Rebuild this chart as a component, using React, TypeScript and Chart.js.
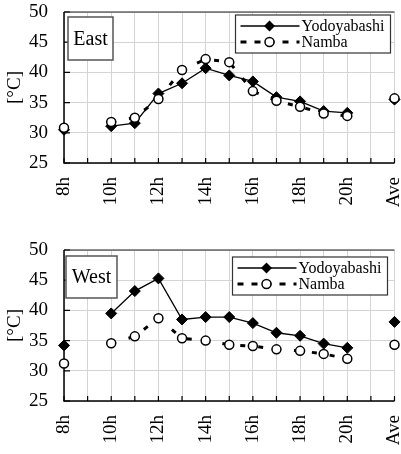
import React, { useEffect, useRef } from 'react';
import { Chart, registerables } from 'chart.js';

Chart.register(...registerables);

const hours = ['8h', '9h', '10h', '11h', '12h', '13h', '14h', '15h', '16h', '17h', '18h', '19h', '20h', '21h', 'Ave'];
const tickLabels = ['8h', '', '10h', '', '12h', '', '14h', '', '16h', '', '18h', '', '20h', '', 'Ave'];
const seriesNames = ['Yodoyabashi', 'Namba'];

const eastYodoyabashi = [30.5, null, 31.1, 31.6, 36.5, 38.2, 40.7, 39.5, 38.5, 35.9, 35.2, 33.6, 33.3, null, 35.5];
const eastNamba = [30.85, null, 31.8, 32.5, 35.6, 40.4, 42.2, 41.7, 36.9, 35.3, 34.3, 33.2, 32.8, null, 35.7];
const westYodoyabashi = [34.2, null, 39.5, 43.2, 45.3, 38.5, 38.9, 38.9, 37.9, 36.3, 35.8, 34.5, 33.8, null, 38.1];
const westNamba = [31.2, null, 34.55, 35.7, 38.7, 35.4, 35.0, 34.3, 34.1, 33.55, 33.3, 32.8, 32.0, null, 34.3];

const FONT = "'Liberation Serif', 'Times New Roman', serif";

const decorPlugin = {
  id: 'decor',
  beforeDatasetsDraw(chart: any) {
    const { ctx, chartArea: a, scales } = chart;
    ctx.save();
    ctx.strokeStyle = '#000';
    ctx.lineWidth = 1.5;
    ctx.beginPath();
    ctx.moveTo(a.left, a.top);
    ctx.lineTo(a.left, a.bottom);
    ctx.lineTo(a.right, a.bottom);
    ctx.stroke();
    ctx.strokeStyle = '#222';
    ctx.lineWidth = 1.2;
    ctx.beginPath();
    ctx.moveTo(a.left, a.top);
    ctx.lineTo(a.right, a.top);
    ctx.stroke();
    ctx.strokeStyle = '#000';
    ctx.lineWidth = 1.2;
    ctx.beginPath();
    scales.x.ticks.forEach((_t: any, i: number) => {
      const x = scales.x.getPixelForTick(i);
      ctx.moveTo(x, a.bottom);
      ctx.lineTo(x, a.bottom - 5);
    });
    scales.y.ticks.forEach((_t: any, i: number) => {
      const y = scales.y.getPixelForTick(i);
      ctx.moveTo(a.left, y);
      ctx.lineTo(a.left + 6, y);
    });
    ctx.stroke();
    ctx.restore();
  },
  afterDraw(chart: any, _args: any, opts: any) {
    const { ctx, chartArea: a } = chart;
    ctx.save();
    const lx = a.left + opts.labelDx;
    const ly = a.top + opts.labelDy;
    ctx.fillStyle = '#fff';
    ctx.fillRect(lx, ly, opts.labelW, opts.labelH);
    ctx.strokeStyle = '#555';
    ctx.lineWidth = 1.5;
    ctx.strokeRect(lx, ly, opts.labelW, opts.labelH);
    ctx.fillStyle = '#000';
    ctx.font = `20px ${FONT}`;
    ctx.textAlign = 'center';
    ctx.textBaseline = 'middle';
    ctx.fillText(opts.label, lx + opts.labelW / 2, ly + opts.labelH / 2 + 1);

    const w = 155;
    const h = 38;
    const bx = a.right - opts.legendDx - w;
    const by = a.top + opts.legendDy;
    ctx.fillStyle = '#fff';
    ctx.fillRect(bx, by, w, h);
    ctx.strokeStyle = '#333';
    ctx.lineWidth = 1.2;
    ctx.strokeRect(bx, by, w, h);

    const r1 = by + 11;
    const r2 = by + 27;
    const x0 = bx + 5;
    const x1 = bx + 64;
    const mx = bx + 34;
    ctx.strokeStyle = '#000';
    ctx.lineWidth = 1.3;
    ctx.beginPath();
    ctx.moveTo(x0, r1);
    ctx.lineTo(x1, r1);
    ctx.stroke();
    ctx.fillStyle = '#000';
    ctx.beginPath();
    ctx.moveTo(mx, r1 - 5.5);
    ctx.lineTo(mx + 5.5, r1);
    ctx.lineTo(mx, r1 + 5.5);
    ctx.lineTo(mx - 5.5, r1);
    ctx.closePath();
    ctx.fill();
    ctx.lineWidth = 3;
    ctx.setLineDash([6, 8]);
    ctx.beginPath();
    ctx.moveTo(x0, r2);
    ctx.lineTo(x1, r2);
    ctx.stroke();
    ctx.setLineDash([]);
    ctx.fillStyle = '#fff';
    ctx.lineWidth = 1.5;
    ctx.beginPath();
    ctx.arc(mx, r2, 4.5, 0, Math.PI * 2);
    ctx.fill();
    ctx.stroke();

    ctx.fillStyle = '#000';
    ctx.font = `16px ${FONT}`;
    ctx.textAlign = 'left';
    ctx.textBaseline = 'middle';
    ctx.fillText(seriesNames[0], x1 + 2, r1 + 1);
    ctx.fillText(seriesNames[1], x1 + 2, r2 + 1);
    ctx.restore();
  },
};

type PanelProps = {
  label: string;
  yod: (number | null)[];
  namba: (number | null)[];
  padTop: number;
  xAxisH: number;
  labelDx: number;
  labelDy: number;
  labelW: number;
  labelH: number;
  legendDx: number;
  legendDy: number;
};

function Panel(p: PanelProps) {
  const ref = useRef<HTMLCanvasElement | null>(null);
  useEffect(() => {
    if (!ref.current) return;
    const chart = new Chart(ref.current, {
      type: 'line',
      data: {
        labels: hours,
        datasets: [
          {
            label: seriesNames[1],
            data: p.namba,
            borderColor: '#000',
            borderWidth: 3,
            borderDash: [5, 13],
            pointStyle: 'circle',
            pointRadius: 4.5,
            pointBackgroundColor: '#fff',
            pointBorderColor: '#000',
            pointBorderWidth: 1.5,
            spanGaps: false,
            clip: false,
            tension: 0,
            order: 0,
          } as any,
          {
            label: seriesNames[0],
            data: p.yod,
            borderColor: '#000',
            borderWidth: 1.3,
            pointStyle: 'rectRot',
            pointRadius: 5.5,
            pointBackgroundColor: '#000',
            pointBorderColor: '#000',
            pointBorderWidth: 1,
            spanGaps: false,
            clip: false,
            tension: 0,
            order: 1,
          } as any,
        ],
      },
      options: {
        animation: false,
        responsive: false,
        devicePixelRatio: 1,
        layout: { padding: { top: p.padTop, right: 4, left: 0, bottom: 0 } },
        plugins: {
          legend: { display: false },
          tooltip: { enabled: false },
          decor: {
            label: p.label,
            labelDx: p.labelDx,
            labelDy: p.labelDy,
            labelW: p.labelW,
            labelH: p.labelH,
            legendDx: p.legendDx,
            legendDy: p.legendDy,
          },
        } as any,
        scales: {
          x: {
            type: 'category',
            offset: false,
            grid: { color: '#d4d4d4', lineWidth: 1, drawTicks: false },
            border: { display: false },
            ticks: {
              autoSkip: false,
              maxRotation: 90,
              minRotation: 90,
              padding: 14,
              color: '#000',
              font: { family: FONT, size: 19 },
              callback: (_v: any, i: number) => tickLabels[i],
            },
            afterFit: (s: any) => {
              s.height = p.xAxisH;
              s.paddingLeft = 0;
              s.paddingRight = 0;
            },
          },
          y: {
            min: 25,
            max: 50,
            grid: { color: '#d4d4d4', lineWidth: 1, drawTicks: false },
            border: { display: false },
            ticks: {
              stepSize: 5,
              padding: 16,
              color: '#000',
              font: { family: FONT, size: 19 },
            },
            title: {
              display: true,
              text: '[°C]',
              color: '#000',
              font: { family: FONT, size: 19 },
            },
            afterFit: (s: any) => {
              s.width = 64;
              s.paddingTop = 0;
              s.paddingBottom = 0;
            },
          },
        },
      } as any,
      plugins: [decorPlugin],
    });
    return () => chart.destroy();
  }, []);
  return <canvas ref={ref} width={401} height={227} style={{ display: 'block', width: 401, height: 227 }} />;
}

export default function App() {
  return (
    <div style={{ position: 'absolute', left: 0, top: 0, width: 401, height: 454, background: '#fff' }}>
      <Panel label="East" yod={eastYodoyabashi} namba={eastNamba} padTop={12} xAxisH={64}
        labelDx={4} labelDy={5} labelW={45} labelH={43} legendDx={4} legendDy={3} />
      <Panel label="West" yod={westYodoyabashi} namba={westNamba} padTop={23} xAxisH={53}
        labelDx={2} labelDy={6} labelW={51} labelH={42} legendDx={7} legendDy={7} />
    </div>
  );
}
